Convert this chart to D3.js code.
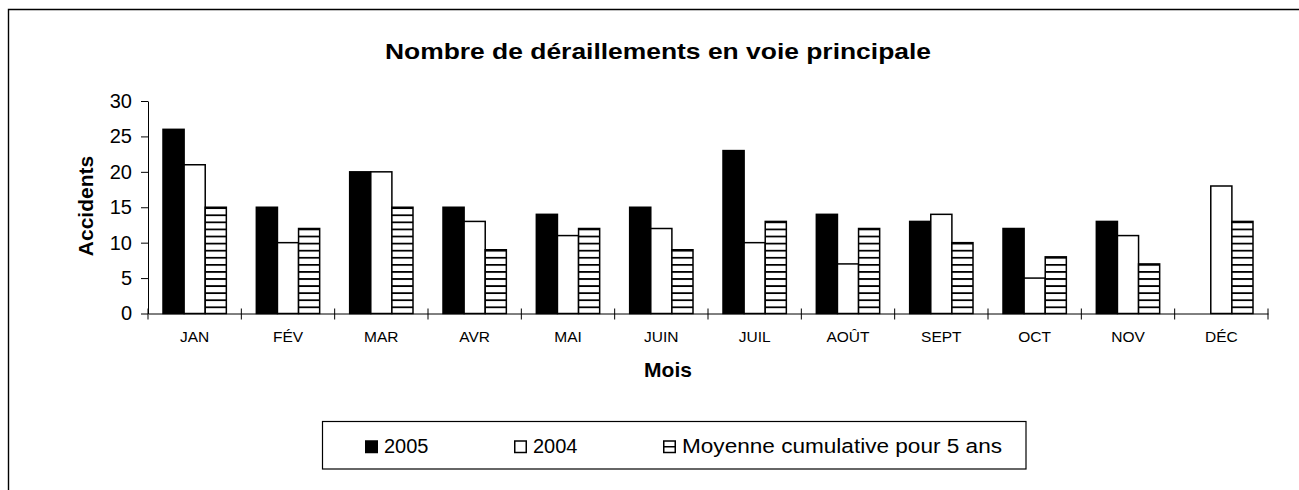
<!DOCTYPE html>
<html>
<head>
<meta charset="utf-8">
<script src="https://cdn.jsdelivr.net/npm/d3@7"></script>
<style>
  body { margin: 0; background: #fff; }
  svg { display: block; font-family: "Liberation Sans", Arial, sans-serif; }
</style>
</head>
<body>
<script>
"use strict";

// chart data
const months = ["JAN", "FÉV", "MAR", "AVR", "MAI", "JUIN", "JUIL", "AOÛT", "SEPT", "OCT", "NOV", "DÉC"];
const seriesNames = ["2005", "2004", "Moyenne cumulative pour 5 ans"];
const values2005 = [26, 15, 20, 15, 14, 15, 23, 14, 13, 12, 13, null];
const values2004 = [21, 10, 20, 13, 11, 12, 10, 7, 14, 5, 11, 18];
const valuesAvg = [15, 12, 15, 9, 12, 9, 13, 12, 10, 8, 7, 13];
const yTicks = [0, 5, 10, 15, 20, 25, 30];

const w = 1299;
const h = 490;
const plotLeft = 148;
const plotRight = 1268;
const plotTop = 101;
const plotBottom = 313.5;

const svg = d3.select("body").append("svg").attr("width", w).attr("height", h);

// hatch for the 5-year average
const defs = svg.append("defs");
const pat = defs.append("pattern")
  .attr("id", "hatch")
  .attr("patternUnits", "userSpaceOnUse")
  .attr("width", 10)
  .attr("height", 7.08)
  .attr("y", plotBottom);
pat.append("rect").attr("width", 10).attr("height", 7.08).attr("fill", "#fff");
pat.append("line").attr("x1", 0).attr("x2", 10).attr("y1", 0.9).attr("y2", 0.9)
  .attr("stroke", "#000").attr("stroke-width", 1.8);

const fills = ["#000", "#fff", "url(#hatch)"];

// outer frame (cut off on the right and bottom)
svg.append("path")
  .attr("d", `M8.5,${h + 5} V9.5 H${w + 5}`)
  .attr("fill", "none")
  .attr("stroke", "#000")
  .attr("stroke-width", 1.4);

// title
svg.append("text")
  .attr("x", 385).attr("y", 58.5)
  .attr("font-size", 22.5).attr("font-weight", "bold")
  .attr("textLength", 546)
  .attr("lengthAdjust", "spacingAndGlyphs")
  .text("Nombre de déraillements en voie principale");

// scales
const x = d3.scaleBand().domain(months).range([plotLeft, plotRight]).padding(0);
const xs = d3.scaleBand().domain(seriesNames).range([15, x.bandwidth() - 15]).padding(0);
const y = d3.scaleLinear().domain([0, 30]).range([plotBottom, plotTop]);

const rows = months.map((m, i) => ({
  month: m,
  vals: [values2005[i], values2004[i], valuesAvg[i]]
}));

// bars
const groups = svg.append("g").selectAll("g")
  .data(rows)
  .join("g")
  .attr("transform", (d) => `translate(${x(d.month)},0)`);

groups.selectAll("rect")
  .data((d) => d.vals.map((v, k) => ({ v, k })).filter((e) => e.v != null))
  .join("rect")
  .attr("x", (e) => xs(seriesNames[e.k]))
  .attr("y", (e) => y(e.v))
  .attr("width", xs.bandwidth())
  .attr("height", (e) => y(0) - y(e.v))
  .attr("fill", (e) => fills[e.k])
  .attr("stroke", "#000")
  .attr("stroke-width", 1.5);

// y axis
const yAxisG = svg.append("g")
  .attr("transform", `translate(${plotLeft},0)`)
  .call(d3.axisLeft(y).tickValues(yTicks).tickSize(7).tickSizeOuter(0).tickPadding(9));
yAxisG.selectAll("text").attr("font-size", 20).attr("fill", "#000").attr("font-family", null);
yAxisG.selectAll("line, path").attr("stroke", "#000");

// x axis: labels at band centres, ticks at band edges
const xAxisG = svg.append("g")
  .attr("transform", `translate(0,${plotBottom})`)
  .call(d3.axisBottom(x).tickSize(0).tickSizeOuter(0).tickPadding(17));
xAxisG.selectAll("text").attr("font-size", 15.5).attr("fill", "#000").attr("font-family", null);
xAxisG.select(".domain").attr("stroke", "#000");

const edges = d3.range(months.length + 1).map((i) => plotLeft + i * x.step());
xAxisG.selectAll(".edge")
  .data(edges)
  .join("line")
  .attr("class", "edge")
  .attr("x1", (d) => d).attr("x2", (d) => d)
  .attr("y1", -5).attr("y2", 6)
  .attr("stroke", "#000");

// axis titles
svg.append("text")
  .attr("transform", "translate(93,206) rotate(-90)")
  .attr("text-anchor", "middle")
  .attr("font-size", 21).attr("font-weight", "bold")
  .text("Accidents");

svg.append("text")
  .attr("x", 668).attr("y", 377)
  .attr("text-anchor", "middle")
  .attr("font-size", 21).attr("font-weight", "bold")
  .text("Mois");

// legend
const legend = svg.append("g");
legend.append("rect")
  .attr("x", 322.5).attr("y", 421.5)
  .attr("width", 703.5).attr("height", 47.5)
  .attr("fill", "#fff").attr("stroke", "#000").attr("stroke-width", 1.2);

const items = legend.selectAll(".item")
  .data(seriesNames)
  .join("g")
  .attr("class", "item")
  .attr("transform", (d, i) => `translate(${365 + i * 149},0)`);

items.append("rect")
  .attr("x", 0.75).attr("y", 441)
  .attr("width", 11.5).attr("height", 11.5)
  .attr("fill", (d, i) => (i === 2 ? "#fff" : fills[i]))
  .attr("stroke", "#000").attr("stroke-width", 1.5);

// small hatch mark for the legend swatch
items.filter((d, i) => i === 2)
  .append("line")
  .attr("x1", 0.75).attr("x2", 12.25)
  .attr("y1", 446.75).attr("y2", 446.75)
  .attr("stroke", "#000").attr("stroke-width", 1.5);

items.append("text")
  .attr("x", 19).attr("y", 453)
  .attr("font-size", 20)
  .text((d) => d)
  .filter((d, i) => i === 2)
  .attr("font-size", 20.5)
  .attr("textLength", 320)
  .attr("lengthAdjust", "spacingAndGlyphs");
</script>
</body>
</html>
